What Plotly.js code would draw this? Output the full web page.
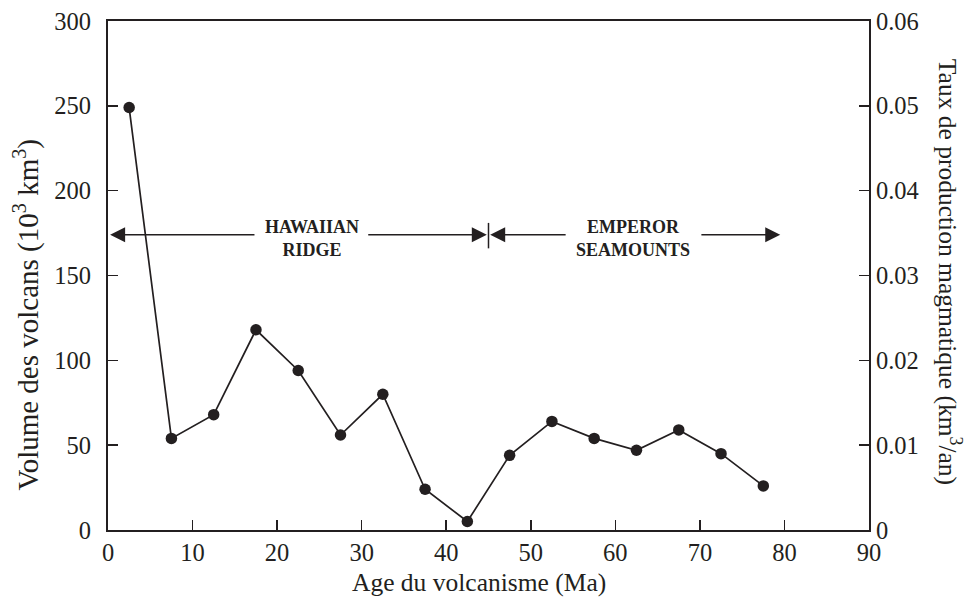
<!DOCTYPE html>
<html>
<head>
<meta charset="utf-8">
<script src="https://cdn.plot.ly/plotly-3.0.1.min.js"></script>
<style>html,body{margin:0;padding:0;background:#fff;}#chart{width:965px;height:598px;}</style>
</head>
<body>
<div id="chart"></div>
<script>
// Data
const ages = [2.5, 7.5, 12.5, 17.5, 22.5, 27.5, 32.5, 37.5, 42.5, 47.5, 52.5, 57.5, 62.5, 67.5, 72.5, 77.5];
const volumes = [249, 54, 68, 118, 94, 56, 80, 24, 5, 44, 64, 54, 47, 59, 45, 26];
const xTicks = [0, 10, 20, 30, 40, 50, 60, 70, 80, 90];
const yTicks = [0, 50, 100, 150, 200, 250, 300];
const rateTicks = [0, 0.01, 0.02, 0.03, 0.04, 0.05, 0.06];
const boundaryAge = 45;
const arrowLevel = 174;
const regionLabels = ["HAWAIIAN<br>RIDGE", "EMPEROR<br>SEAMOUNTS"];
const regionCenters = [24.1, 62.1];

const serif = "'Liberation Serif', 'Times New Roman', serif";
const ink = "#231f20";

const trace = {
  x: ages, y: volumes, type: "scatter", mode: "lines+markers",
  line: {color: ink, width: 1.7},
  marker: {color: ink, size: 11.5},
  hoverinfo: "x+y", showlegend: false
};
// empty trace so that the right-hand (rate) axis is drawn
const rateAxisTrace = {x: [], y: [], type: "scatter", mode: "lines", yaxis: "y2", showlegend: false, hoverinfo: "skip"};

function arrow(fromX, toX) {
  return {
    x: toX, y: arrowLevel, ax: fromX, ay: arrowLevel,
    xref: "x", yref: "y", axref: "x", ayref: "y",
    showarrow: true, arrowhead: 2, arrowsize: 2, arrowwidth: 1.5,
    arrowcolor: ink, text: ""
  };
}

const titleFont = {family: serif, size: 25.5, color: ink};
const annotations = [
  arrow(17.5, 0.25), arrow(30.6, 44.8), arrow(54.3, 45.2), arrow(70.0, 79.5),
  {x: regionCenters[0], y: 172, xref: "x", yref: "y", text: "<b>" + regionLabels[0] + "</b>",
   xanchor: "center", yanchor: "middle",
   showarrow: false, font: {family: serif, size: 18, color: ink}},
  {x: regionCenters[1], y: 172, xref: "x", yref: "y", text: "<b>" + regionLabels[1] + "</b>",
   xanchor: "center", yanchor: "middle",
   showarrow: false, font: {family: serif, size: 18, color: ink}},
  {x: -0.107, y: 0.4224, xref: "paper", yref: "paper", text: "Volume des volcans (10<sup>3</sup> km<sup>3</sup>)",
   xanchor: "center", yanchor: "middle",
   textangle: -90, showarrow: false, font: {family: serif, size: 29, color: ink}},
  {x: 1.106, y: 0.508, xref: "paper", yref: "paper", text: "Taux de production magmatique (km<sup>3</sup>/an)",
   xanchor: "center", yanchor: "middle",
   textangle: 90, showarrow: false, font: titleFont},
  {x: 0.4875, y: -0.104, xref: "paper", yref: "paper", text: "Age du volcanisme (Ma)",
   xanchor: "center", yanchor: "middle",
   showarrow: false, font: titleFont}
];

const tickFont = {family: serif, size: 24.5, color: ink};
const layout = {
  width: 965, height: 598,
  margin: {l: 108, r: 96, t: 21, b: 68},
  paper_bgcolor: "#fff", plot_bgcolor: "#fff",
  font: {family: serif, color: ink, size: 22},
  showlegend: false,
  xaxis: {
    range: [0, 90], tickvals: xTicks, ticktext: xTicks.map(String),
    ticks: "inside", ticklen: 10, tickwidth: 1.5, tickcolor: ink,
    showline: true, linecolor: ink, linewidth: 2, mirror: true,
    showgrid: false, zeroline: false, ticklabelstandoff: 0,
    tickfont: tickFont
  },
  yaxis: {
    range: [0, 300], tickvals: yTicks, ticktext: yTicks.map(String),
    ticks: "inside", ticklen: 10, tickwidth: 1.5, tickcolor: ink,
    showline: true, linecolor: ink, linewidth: 2, mirror: false,
    showgrid: false, zeroline: false, ticklabelstandoff: 10,
    tickfont: tickFont
  },
  yaxis2: {
    overlaying: "y", side: "right", anchor: "x",
    range: [0, 0.06], tickvals: rateTicks, ticktext: rateTicks.map(String),
    ticks: "inside", ticklen: 10, tickwidth: 1.5, tickcolor: ink,
    showline: true, linecolor: ink, linewidth: 2,
    showgrid: false, zeroline: false, ticklabelstandoff: 0,
    tickfont: tickFont
  },
  shapes: [
    {type: "line", xref: "x", yref: "y", x0: boundaryAge, x1: boundaryAge, y0: 166, y1: 181,
     line: {color: ink, width: 1.5}}
  ],
  annotations: annotations
};

Plotly.newPlot("chart", [trace, rateAxisTrace], layout, {displayModeBar: false, staticPlot: true});
</script>
</body>
</html>
